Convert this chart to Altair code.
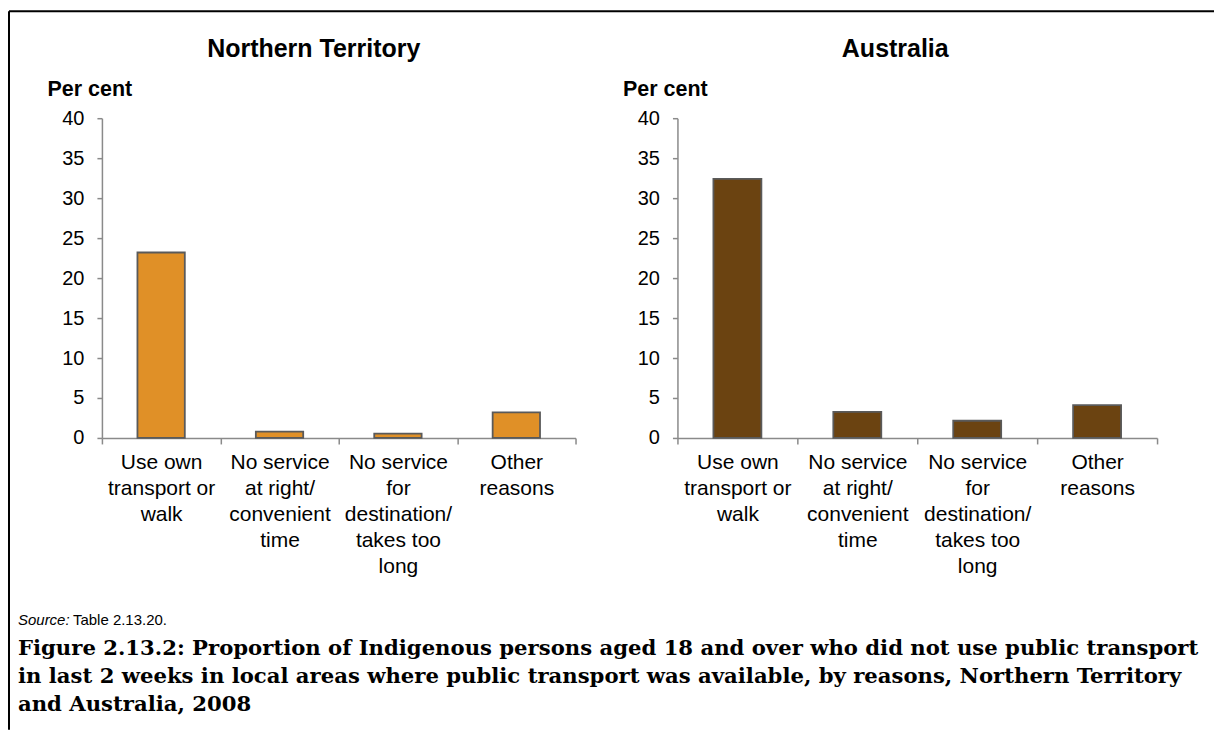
import altair as alt
import pandas as pd

categories = [
    "Use own\ntransport or\nwalk",
    "No service\nat right/\nconvenient\ntime",
    "No service\nfor\ndestination/\ntakes too\nlong",
    "Other\nreasons",
]
nt_values = [23.2, 0.8, 0.55, 3.2]
au_values = [32.4, 3.25, 2.15, 4.1]
y_ticks = [0, 5, 10, 15, 20, 25, 30, 35, 40]

panel_titles = ["Northern Territory", "Australia"]
y_title = "Per cent"
source_label = "Source:"
source_text = "Table 2.13.20."
caption_lines = [
    "Figure 2.13.2: Proportion of Indigenous persons aged 18 and over who did not use public transport",
    "in last 2 weeks in local areas where public transport was available, by reasons, Northern Territory",
    "and Australia, 2008",
]

SANS = "Liberation Sans"
SERIF = "DejaVu Serif"

nt_df = pd.DataFrame({"category": categories, "value": nt_values})
au_df = pd.DataFrame({"category": categories, "value": au_values})

one = alt.Data(values=[{}])


def bars(df, color, width):
    return (
        alt.Chart(df)
        .mark_bar(width={"band": 0.4}, color=color, stroke="#5a5a5a", strokeWidth=1.8)
        .encode(
            x=alt.X(
                "category:N",
                sort=categories,
                scale=alt.Scale(paddingInner=0, paddingOuter=0),
                axis=alt.Axis(
                    title=None,
                    labelAngle=0,
                    labelExpr="split(datum.label, '\\n')",
                    labelLineHeight=26,
                    labelFontSize=21,
                    labelPadding=8,
                    labelOverlap=False,
                    labelLimit=300,
                    tickBand="extent",
                    tickSize=6,
                ),
            ),
            y=alt.Y(
                "value:Q",
                scale=alt.Scale(domain=[0, 40], nice=False),
                axis=alt.Axis(
                    values=y_ticks,
                    title=y_title,
                    titleAngle=0,
                    titleX=-55,
                    titleY=-23,
                    titleAlign="left",
                    titleBaseline="alphabetic",
                    titleFontSize=21.5,
                    titleFontWeight="bold",
                    titleFont=SANS,
                    titleColor="black",
                    labelFontSize=20,
                    labelPadding=13,
                    tickSize=5,
                ),
            ),
        )
        .properties(width=width, height=320)
    )


def panel_title(text, cx):
    return alt.Chart(one).mark_text(
        text=text, font=SANS, fontSize=25, fontWeight="bold", align="center",
        baseline="alphabetic", color="black"
    ).encode(x=alt.value(cx), y=alt.value(-61))


border_left = alt.Chart(one).mark_rule(color="black", strokeWidth=2).encode(
    x=alt.value(-93), y=alt.value(-107), y2=alt.value(612)
)
border_top = alt.Chart(one).mark_rule(color="black", strokeWidth=2).encode(
    x=alt.value(-93), x2=alt.value(1113), y=alt.value(-107)
)
src1 = alt.Chart(one).mark_text(
    text=source_label, font=SANS, fontSize=15, fontStyle="italic", align="left",
    baseline="alphabetic", color="black"
).encode(x=alt.value(-84), y=alt.value(507))
src2 = alt.Chart(one).mark_text(
    text=source_text, font=SANS, fontSize=15, align="left",
    baseline="alphabetic", color="black"
).encode(x=alt.value(-29), y=alt.value(507))
caption = alt.Chart(one).mark_text(
    text=caption_lines, font=SERIF, fontSize=21.2, fontWeight="bold", align="left",
    baseline="alphabetic", lineHeight=28, color="black"
).encode(x=alt.value(-84), y=alt.value(537))

left = alt.layer(
    bars(nt_df, "#E09027", 474),
    panel_title(panel_titles[0], 212),
    border_left, border_top, src1, src2, caption,
)
right = alt.layer(
    bars(au_df, "#6B4311", 480),
    panel_title(panel_titles[1], 218),
)

chart = (
    alt.hconcat(left, right, spacing=102, bounds="flush")
    .properties(padding={"left": 0, "top": 2, "right": 0, "bottom": 0})
    .configure_view(strokeWidth=0)
    .configure_axis(
        grid=False,
        labelFont=SANS,
        labelColor="black",
        domainColor="#8a8a8a",
        tickColor="#8a8a8a",
        domainWidth=1.5,
        tickWidth=1.5,
    )
)

chart.save("out.html", embed_options={"renderer": "svg", "actions": False})
